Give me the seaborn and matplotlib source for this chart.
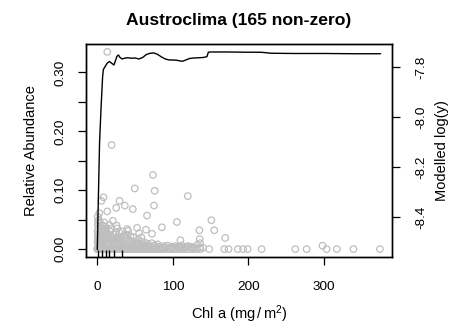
import matplotlib
matplotlib.use("Agg")
import matplotlib.pyplot as plt
import seaborn as sns
import pandas as pd

# ---------------- data ----------------
title = "Austroclima (165 non-zero)"

# non-zero observations (Chl a, relative abundance)
nz_x = [13.2, 18.9, 73.7, 49.6, 75.9, 119.7, 8.3, 5.3, 29.4, 36.4, 25.0, 75.0,
        46.9, 13.2, 2.6, 65.8, 150.9, 105.3, 20.6, 9.2, 85.5, 52.6, 64.5, 135.1,
        154.8, 39.5, 40.8, 26.3, 24.6, 55.3, 72.4, 58.3, 169.3, 110.0, 135.5, 298.0,
        0.5, 1.0, 0.8, 1.5, 0.3, 2.0, 1.2, 0.6, 2.5, 0.4, 1.8, 0.9, 3.0, 0.2,
        3.5, 4.0, 4.5, 5.0, 5.5, 6.0, 6.5, 7.0, 7.5, 8.0, 8.5, 9.0, 10.0, 10.5,
        11.0, 12.0, 12.5, 13.0, 14.0, 15.0, 16.0, 17.0, 18.0, 19.0, 20.0, 21.0,
        22.0, 23.0, 24.0, 26.0, 27.0, 28.0, 29.0, 30.0, 31.0, 32.0, 34.0, 35.0,
        36.0, 38.0, 40.0, 42.0, 43.0, 45.0, 47.0, 50.0, 52.0, 55.0, 57.0, 60.0,
        62.0, 65.0, 68.0, 70.0, 74.0, 78.0, 82.0, 86.0, 90.0, 95.0, 100.0, 104.0,
        108.0, 112.0, 116.0, 120.0, 124.0, 128.0, 132.0, 136.0, 2.2, 3.2, 4.2, 5.2,
        6.2, 9.5, 11.5, 14.5, 18.5, 25.5, 33.0, 37.0, 44.0, 48.0, 54.0, 58.0,
        63.0, 66.0, 72.0, 76.0, 80.0, 88.0, 93.0, 98.0, 103.0, 110.0, 0.7, 1.4,
        2.8, 3.8, 4.8, 6.8, 7.8, 9.8, 11.8, 13.8, 16.5, 19.5, 23.5, 27.5, 31.5,
        39.0, 46.0, 53.0, 61.0, 69.0, 84.0, 136.0, 118.0, 126.0, 140.0]
nz_y = [0.335, 0.177, 0.126, 0.103, 0.099, 0.090, 0.088, 0.082, 0.082, 0.074, 0.070, 0.074,
        0.068, 0.064, 0.061, 0.057, 0.049, 0.046, 0.048, 0.045, 0.037, 0.036, 0.033, 0.032,
        0.032, 0.034, 0.031, 0.035, 0.029, 0.027, 0.026, 0.020, 0.019, 0.015, 0.017, 0.0057,
        0.055, 0.048, 0.040, 0.035, 0.030, 0.027, 0.022, 0.018, 0.015, 0.012, 0.009, 0.006, 0.004, 0.002,
        0.045, 0.038, 0.030, 0.024, 0.019, 0.013, 0.008, 0.005, 0.040, 0.033, 0.028, 0.021, 0.017, 0.011,
        0.007, 0.036, 0.026, 0.019, 0.013, 0.009, 0.041, 0.030, 0.022, 0.015, 0.010, 0.006,
        0.025, 0.018, 0.012, 0.020, 0.014, 0.008, 0.028, 0.016, 0.010, 0.005, 0.022, 0.013,
        0.007, 0.018, 0.010, 0.005, 0.015, 0.008, 0.012, 0.006, 0.010, 0.004, 0.008, 0.003,
        0.006, 0.004, 0.007, 0.003, 0.005, 0.003, 0.004, 0.002, 0.003, 0.002, 0.003, 0.002,
        0.004, 0.006, 0.003, 0.005, 0.004, 0.002, 0.007, 0.010, 0.050, 0.020, 0.010, 0.035,
        0.028, 0.038, 0.030, 0.024, 0.035, 0.040, 0.030, 0.025, 0.022, 0.020, 0.016, 0.013,
        0.011, 0.009, 0.010, 0.006, 0.008, 0.005, 0.006, 0.004, 0.005, 0.003, 0.025, 0.044,
        0.016, 0.026, 0.012, 0.020, 0.014, 0.024, 0.018, 0.006, 0.004, 0.020, 0.008, 0.011, 0.013,
        0.024, 0.004, 0.009, 0.005, 0.003, 0.002, 0.003, 0.004, 0.003, 0.002]

# zero observations (Chl a)
zero_x = [0.0, 0.3, 0.7, 1.1, 1.6, 2.0, 2.6, 3.1, 3.7, 4.4, 5.0, 5.8, 6.5, 7.3, 8.1,
          9.0, 9.8, 10.7, 11.6, 12.5, 13.5, 14.6, 15.6, 16.8, 18.0, 19.3, 20.6, 22.0,
          23.5, 25.0, 26.6, 28.3, 30.0, 31.8, 33.6, 35.5, 37.5, 39.6, 41.8, 44.0, 46.3,
          48.7, 51.2, 53.8, 56.5, 59.3, 62.2, 65.2, 68.3, 71.5, 74.8, 78.2, 81.7, 85.3,
          89.0, 92.8, 96.7, 100.7, 104.8, 109.0, 113.3, 117.7, 122.2, 126.8, 131.5,
          136.3, 148.0, 168.0, 173.7, 186.0, 193.0, 199.0, 217.5, 262.0, 277.0, 303.5,
          317.0, 339.0, 374.0]

# modelled response (Chl a, log(y))
fit_x = [0, 1, 2, 3, 4, 5, 6, 7, 8, 10, 13, 16, 19, 22, 24, 26, 28, 30, 33, 36, 40,
         45, 50, 55, 60, 65, 70, 75, 80, 85, 90, 95, 100, 105, 110, 113, 118, 122,
         128, 135, 140, 145, 147, 150, 170, 200, 215, 220, 230, 260, 300, 340, 375]
fit_y = [-8.53, -8.38, -8.24, -8.10, -8.03, -7.96, -7.90, -7.84, -7.81, -7.800, -7.785,
         -7.778, -7.785, -7.792, -7.775, -7.757, -7.752, -7.762, -7.768, -7.765, -7.763,
         -7.765, -7.764, -7.768, -7.762, -7.750, -7.745, -7.744, -7.750, -7.760, -7.768,
         -7.772, -7.772, -7.773, -7.776, -7.777, -7.771, -7.766, -7.764, -7.763, -7.762,
         -7.759, -7.741, -7.740, -7.740, -7.741, -7.741, -7.742, -7.745, -7.746, -7.746,
         -7.747, -7.747]

# deciles of Chl a (rug)
rug_x = [0.5, 6.5, 10.9, 15.3, 21.9, 32.9]

x_ticks = [0, 100, 200, 300]
y_ticks = [0.00, 0.05, 0.10, 0.15, 0.20, 0.25, 0.30]
y_ticklabels = ["0.00", "", "0.10", "", "0.20", "", "0.30"]
y2_ticks = [-8.4, -8.2, -8.0, -7.8]
y2_ticklabels = ["-8.4", "-8.2", "-8.0", "-7.8"]

# ---------------- plot ----------------
sns.set_theme(style="ticks")
plt.rcParams["font.family"] = ["Liberation Sans", "DejaVu Sans"]
plt.rcParams["mathtext.default"] = "regular"
plt.rcParams["text.color"] = "black"
plt.rcParams["axes.labelcolor"] = "black"
plt.rcParams["xtick.color"] = "black"
plt.rcParams["ytick.color"] = "black"

obs = pd.DataFrame({"x": nz_x + zero_x, "y": nz_y + [0.0] * len(zero_x)})
fit = pd.DataFrame({"x": fit_x, "y": fit_y})

fig = plt.figure(figsize=(4.53, 3.28), dpi=100)
ax = fig.add_axes([0.1898, 0.2165, 0.6755, 0.6494])

sns.scatterplot(data=obs, x="x", y="y", ax=ax, marker="o", s=22,
                facecolor="none", edgecolor="#BEBEBE", linewidth=0.9, legend=False)
sns.rugplot(x=rug_x, ax=ax, height=0.033, color="black", linewidth=1.0)

ax.set_xlim(-15, 390)
ax.set_ylim(-0.0134, 0.3484)
ax.set_xticks(x_ticks)
ax.set_xticklabels([str(v) for v in x_ticks])
ax.set_yticks(y_ticks)
ax.set_yticklabels(y_ticklabels, rotation=90, va="center")
ax.set_xlabel(r"Chl a (mg$\,/\,$m$^{2}$)", fontsize=10.5, labelpad=7.5, color="black")
ax.set_ylabel("Relative Abundance", fontsize=10.5, labelpad=12, color="black")
ax.set_title(title, fontsize=12.6, fontweight="bold", pad=14, color="black")

ax2 = ax.twinx()
sns.lineplot(data=fit, x="x", y="y", ax=ax2, color="black", linewidth=1.0)
ax2.set_ylim(-8.56, -7.708)
ax2.set_yticks(y2_ticks)
ax2.set_yticklabels(y2_ticklabels, rotation=90, va="center")
ax2.set_ylabel("Modelled log(y)", fontsize=10.5, labelpad=5.5, color="black")
ax2.set_xlabel("")

for a in (ax, ax2):
    for sp in a.spines.values():
        sp.set_visible(True)
        sp.set_color("black")
        sp.set_linewidth(1.0)
    a.tick_params(axis="both", length=6, width=0.9, color="black",
                  labelsize=9.7, labelcolor="black")
ax.tick_params(axis="x", pad=11.5)
ax.tick_params(axis="y", pad=8)
ax2.tick_params(axis="y", pad=11)

fig.savefig("out.png", dpi=100)
